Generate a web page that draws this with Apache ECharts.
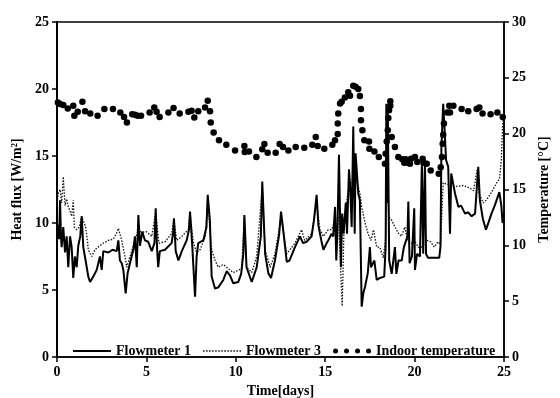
<!DOCTYPE html>
<html>
<head>
<meta charset="utf-8">
<script src="https://cdn.jsdelivr.net/npm/echarts@6/dist/echarts.min.js"></script>
<style>
  html, body {margin: 0; padding: 0; background: #fff;}
  #chart {width: 560px; height: 398px;}
</style>
</head>
<body>
<div id="chart"></div>
<script>
// [day, heat flux W/m2]
var flowmeter1 = [
    [0.0, 10.0], [0.07, 10.0], [0.12, 8.8], [0.17, 11.7], [0.22, 9.0], [0.26, 8.2], [0.35, 9.7], [0.45, 7.8],
    [0.54, 9.0], [0.63, 6.7], [0.73, 9.0], [0.82, 8.2], [0.91, 5.9], [1.0, 7.5], [1.1, 6.7], [1.19, 8.3],
    [1.3, 9.0], [1.38, 10.5], [1.47, 8.2], [1.6, 7.2], [1.75, 6.0], [1.85, 5.6], [2.03, 6.0], [2.22, 6.5],
    [2.4, 7.5], [2.5, 6.5], [2.59, 7.9], [2.87, 7.8], [3.1, 8.0], [3.34, 7.9], [3.43, 8.7], [3.52, 7.2],
    [3.62, 7.0], [3.71, 6.5], [3.84, 4.75], [3.95, 6.25], [4.08, 7.0], [4.27, 8.0], [4.36, 9.0], [4.46, 6.7],
    [4.55, 10.6], [4.64, 8.3], [4.77, 9.35], [4.92, 8.7], [5.1, 8.6], [5.3, 7.9], [5.45, 8.5], [5.52, 11.1],
    [5.6, 8.0], [5.66, 6.7], [5.75, 7.9], [6.04, 8.0], [6.41, 8.5], [6.5, 9.3], [6.54, 10.35], [6.64, 7.9],
    [6.79, 7.2], [6.98, 7.9], [7.25, 8.7], [7.38, 9.5], [7.44, 10.85], [7.57, 8.2], [7.63, 6.7], [7.72, 4.5],
    [7.81, 7.5], [7.9, 8.5], [8.18, 8.7], [8.36, 9.7], [8.43, 12.1], [8.55, 10.2], [8.65, 6.0], [8.84, 5.1],
    [9.02, 5.2], [9.3, 5.75], [9.49, 6.4], [9.67, 6.1], [9.86, 5.5], [10.14, 5.6], [10.3, 6.2], [10.42, 7.7],
    [10.48, 10.6], [10.6, 6.7], [10.89, 5.6], [11.17, 6.7], [11.4, 9.0], [11.48, 13.1], [11.64, 7.7], [11.82, 6.25],
    [11.97, 5.9], [12.19, 7.2], [12.42, 9.1], [12.53, 10.85], [12.65, 9.5], [12.85, 7.1], [13.0, 7.2], [13.31, 8.2],
    [13.59, 9.0], [13.76, 8.5], [13.96, 8.6], [14.24, 9.0], [14.37, 10.2], [14.52, 12.1], [14.62, 9.8], [14.78, 8.7],
    [14.9, 8.0], [15.08, 8.5], [15.17, 8.7], [15.36, 9.2], [15.45, 9.0], [15.55, 11.2], [15.62, 7.2], [15.68, 9.2],
    [15.77, 15.1], [15.88, 6.7], [15.95, 10.7], [16.03, 9.2], [16.15, 11.5], [16.22, 9.2], [16.33, 14.0], [16.4, 12.7],
    [16.48, 9.7], [16.57, 17.2], [16.65, 9.2], [16.7, 15.2], [16.8, 13.2], [16.85, 12.2], [16.94, 11.7], [17.04, 3.75],
    [17.13, 4.75], [17.23, 5.25], [17.38, 6.25], [17.5, 8.2], [17.56, 6.7], [17.75, 7.2], [17.88, 5.75], [18.06, 5.9],
    [18.3, 6.0], [18.38, 8.2], [18.42, 18.9], [18.46, 11.5], [18.5, 18.6], [18.58, 7.2], [18.72, 6.2], [18.9, 8.2],
    [18.98, 6.2], [19.1, 7.2], [19.28, 7.2], [19.4, 8.2], [19.6, 9.0], [19.65, 11.6], [19.72, 7.0], [19.85, 7.5],
    [19.98, 11.1], [20.02, 6.5], [20.14, 7.7], [20.3, 7.5], [20.41, 14.7], [20.48, 7.7], [20.58, 14.5], [20.64, 7.7],
    [20.75, 7.4], [21.03, 7.4], [21.38, 7.4], [21.45, 8.3], [21.5, 15.7], [21.6, 18.9], [21.68, 16.9], [21.76, 14.7],
    [21.88, 14.2], [21.98, 9.2], [22.05, 13.7], [22.26, 12.2], [22.45, 11.2], [22.6, 11.3], [22.82, 10.7], [23.0, 10.8],
    [23.19, 10.5], [23.38, 10.7], [23.56, 14.2], [23.65, 11.7], [23.82, 10.3], [23.99, 9.5], [24.15, 10.1], [24.3, 10.7],
    [24.48, 11.3], [24.74, 12.3], [24.85, 11.3], [24.92, 10.0], [25.0, 10.7]
];

var flowmeter3 = [
    [0.0, 11.5], [0.07, 12.2], [0.17, 12.5], [0.26, 11.5], [0.35, 13.45], [0.45, 11.3], [0.54, 11.8], [0.63, 11.2],
    [0.73, 10.9], [0.82, 10.5], [0.91, 11.7], [0.97, 9.7], [1.1, 9.5], [1.25, 9.7], [1.38, 10.5], [1.6, 9.7],
    [1.7, 8.7], [1.75, 8.0], [1.94, 7.5], [2.12, 8.0], [2.3, 8.2], [2.59, 8.5], [2.87, 8.7], [3.15, 8.8],
    [3.35, 9.3], [3.43, 9.6], [3.62, 8.7], [3.8, 7.5], [3.9, 6.7], [4.08, 7.5], [4.36, 8.7], [4.55, 9.5],
    [4.73, 9.3], [5.0, 9.35], [5.3, 9.0], [5.52, 10.8], [5.7, 8.5], [6.04, 8.6], [6.41, 9.2], [6.54, 10.2],
    [6.7, 8.7], [6.98, 9.0], [7.34, 9.5], [7.44, 10.7], [7.63, 8.5], [7.81, 7.8], [8.0, 8.0], [8.3, 9.0],
    [8.43, 11.8], [8.55, 9.5], [8.65, 8.0], [8.84, 7.2], [9.02, 6.7], [9.3, 6.9], [9.49, 6.7], [9.67, 6.5],
    [9.86, 6.3], [9.96, 6.4], [10.33, 6.6], [10.48, 10.4], [10.6, 6.7], [10.89, 6.3], [11.17, 7.5], [11.48, 12.7],
    [11.64, 8.0], [11.92, 6.7], [12.19, 7.7], [12.53, 10.4], [12.85, 7.7], [13.31, 8.5], [13.68, 9.5], [13.85, 8.7],
    [14.24, 9.2], [14.52, 11.4], [14.71, 9.5], [14.9, 9.0], [15.17, 9.5], [15.36, 9.5], [15.55, 10.2], [15.75, 10.5],
    [15.88, 6.0], [15.95, 3.8], [16.05, 9.5], [16.15, 11.2], [16.33, 12.7], [16.5, 13.0], [16.6, 14.0], [16.85, 12.7],
    [16.94, 12.2], [17.04, 11.2], [17.23, 10.0], [17.4, 9.2], [17.56, 8.7], [17.7, 9.5], [17.88, 8.2], [18.05, 8.2],
    [18.25, 7.4], [18.4, 9.0], [18.45, 14.0], [18.55, 10.5], [18.72, 10.2], [18.9, 9.7], [19.09, 9.25], [19.25, 9.0],
    [19.46, 9.7], [19.6, 8.7], [19.84, 8.5], [20.0, 8.7], [20.2, 8.2], [20.4, 8.2], [20.7, 8.7], [20.9, 8.6],
    [21.1, 8.2], [21.3, 8.6], [21.45, 8.4], [21.6, 13.0], [21.64, 13.0], [22.17, 12.7], [22.73, 12.8], [23.1, 12.6],
    [23.3, 12.4], [23.5, 14.0], [23.6, 12.2], [23.84, 11.5], [24.0, 11.7], [24.31, 12.3], [24.59, 13.0], [24.75, 13.3],
    [24.85, 14.7], [24.92, 17.2], [24.97, 17.9]
];

// [day, temperature degC]
var indoorTemp = [
    [0.05, 22.8], [0.17, 22.65], [0.35, 22.56], [0.6, 22.26], [0.91, 22.5], [0.97, 21.6], [1.16, 21.96], [1.42, 22.86],
    [1.57, 22.0], [1.86, 21.8], [2.27, 21.6], [2.65, 22.2], [3.13, 22.2], [3.54, 21.9], [3.75, 21.5], [3.91, 21.0],
    [4.21, 21.75], [4.36, 21.7], [4.51, 21.6], [4.7, 21.6], [5.18, 21.9], [5.44, 22.35], [5.57, 21.96], [5.74, 21.5],
    [6.23, 21.9], [6.52, 22.3], [6.86, 21.8], [7.35, 21.96], [7.53, 22.05], [7.68, 21.45], [7.9, 22.0], [8.28, 22.35],
    [8.43, 22.95], [8.56, 22.0], [8.6, 21.0], [8.76, 20.1], [9.06, 19.4], [9.47, 19.0], [9.96, 18.5], [10.48, 18.9],
    [10.5, 18.35], [10.74, 18.4], [11.15, 17.9], [11.48, 18.6], [11.6, 19.07], [11.78, 18.3], [12.23, 18.3], [12.45, 19.07],
    [12.64, 18.8], [12.94, 18.5], [13.35, 18.8], [13.83, 18.75], [14.28, 19.0], [14.47, 19.7], [14.58, 18.9], [14.95, 18.65],
    [15.4, 19.0], [15.55, 19.4], [15.7, 19.96], [15.7, 20.9], [15.73, 21.8], [15.83, 22.7], [15.92, 22.86], [16.1, 23.25],
    [16.29, 23.7], [16.39, 23.4], [16.57, 24.3], [16.7, 24.2], [16.85, 24.0], [16.94, 23.37], [17.0, 22.2], [17.0, 21.2],
    [17.08, 20.3], [17.19, 19.4], [17.45, 19.3], [17.47, 18.65], [17.75, 18.4], [18.0, 17.9], [18.34, 17.3], [18.38, 18.2],
    [18.44, 19.3], [18.5, 20.3], [18.53, 21.4], [18.57, 22.1], [18.64, 22.5], [18.64, 22.9], [18.72, 19.7], [18.9, 18.8],
    [19.09, 17.9], [19.31, 17.7], [19.42, 17.4], [19.5, 17.7], [19.61, 17.4], [19.74, 17.3], [19.8, 17.75], [20.02, 17.9],
    [20.15, 17.46], [20.45, 17.75], [20.5, 17.4], [20.68, 17.3], [20.9, 16.7], [21.35, 16.4], [21.46, 17.0], [21.53, 17.9],
    [21.57, 19.1], [21.6, 19.9], [21.64, 20.9], [21.83, 21.9], [21.94, 22.5], [21.98, 21.9], [22.17, 22.5], [22.63, 22.2],
    [23.0, 22.0], [23.47, 22.2], [23.62, 22.35], [23.8, 21.8], [24.25, 21.75], [24.63, 21.9], [24.93, 21.5]
];

var seriesNames = ['Flowmeter 1', 'Flowmeter 3', 'Indoor temperature'];

var font = 'Liberation Serif, Times New Roman, serif';
var labelStyle = {color: '#000', fontFamily: font, fontWeight: 'bold', fontSize: 14};
var nameStyle = {color: '#000', fontFamily: font, fontWeight: 'bold', fontSize: 14};

// legend icons: solid line, dotted line, four dots
var iconSolid = 'path://M0,0h38v2h-38z';
var iconDotted = 'path://' + [0, 3, 6, 9, 12, 15, 18, 21, 24, 27, 30, 33, 36].map(function (x) {
    return 'M' + x + ',0h1.5v1.5h-1.5z';
}).join('');
var iconDots = 'path://' + [0, 11, 22, 33].map(function (x) {
    return 'M' + x + ',2.5a2.5,2.5 0 1,0 5,0a2.5,2.5 0 1,0 -5,0';
}).join('');

var chart = echarts.init(document.getElementById('chart'), null, {renderer: 'canvas'});
var option = {
    animation: false,
    backgroundColor: '#fff',
    grid: {
        left: 57, right: 56, top: 22, bottom: 41,
        outerBoundsMode: 'none', containLabel: false,
        show: true, borderColor: '#000', borderWidth: 1.5, backgroundColor: 'transparent'
    },
    legend: {
        left: 68, top: 339,
        itemWidth: 38, itemHeight: 6, itemGap: 12,
        symbolKeepAspect: true,
        textStyle: {color: '#000', fontFamily: font, fontWeight: 'bold', fontSize: 14},
        data: [
            {name: seriesNames[0], icon: iconSolid, itemStyle: {color: '#000', borderWidth: 0}},
            {name: seriesNames[1], icon: iconDotted, itemStyle: {color: '#111', borderWidth: 0}},
            {name: seriesNames[2], icon: iconDots, itemStyle: {color: '#000', borderWidth: 0}}
        ]
    },
    xAxis: {
        type: 'value', min: 0, max: 25, interval: 5,
        name: 'Time[days]', nameLocation: 'middle', nameGap: 24, nameTextStyle: nameStyle,
        axisLine: {lineStyle: {color: '#000', width: 1.5}},
        axisTick: {length: 5, lineStyle: {color: '#000', width: 1.5}},
        axisLabel: labelStyle,
        splitLine: {show: false}
    },
    yAxis: [
        {
            type: 'value', min: 0, max: 25, interval: 5,
            name: 'Heat flux [W/m²]', nameLocation: 'middle', nameGap: 33, nameTextStyle: nameStyle,
            axisLine: {show: true, lineStyle: {color: '#000', width: 2}},
            axisTick: {show: true, length: 5, lineStyle: {color: '#000', width: 1.5}},
            axisLabel: labelStyle,
            splitLine: {show: false}
        },
        {
            type: 'value', min: 0, max: 30, interval: 5, position: 'right',
            name: 'Temperature [°C]', nameLocation: 'middle', nameGap: 28, nameTextStyle: nameStyle,
            axisLine: {show: true, lineStyle: {color: '#000', width: 1.5}},
            axisTick: {show: true, length: 5, lineStyle: {color: '#000', width: 1.5}},
            axisLabel: labelStyle,
            splitLine: {show: false}
        }
    ],
    series: [
        {
            name: seriesNames[0], type: 'line', yAxisIndex: 0, symbol: 'none',
            lineStyle: {color: '#000', width: 2},
            itemStyle: {color: '#000'},
            data: flowmeter1, z: 3
        },
        {
            name: seriesNames[1], type: 'line', yAxisIndex: 0, symbol: 'none',
            lineStyle: {color: '#111', width: 1.3, type: [1.5, 1.5]},
            itemStyle: {color: '#111'},
            data: flowmeter3, z: 2
        },
        {
            name: seriesNames[2], type: 'scatter', yAxisIndex: 1, symbol: 'circle', symbolSize: 6.5,
            itemStyle: {color: '#000', opacity: 1},
            data: indoorTemp, z: 4
        }
    ]
};
chart.setOption(option);
</script>
</body>
</html>
